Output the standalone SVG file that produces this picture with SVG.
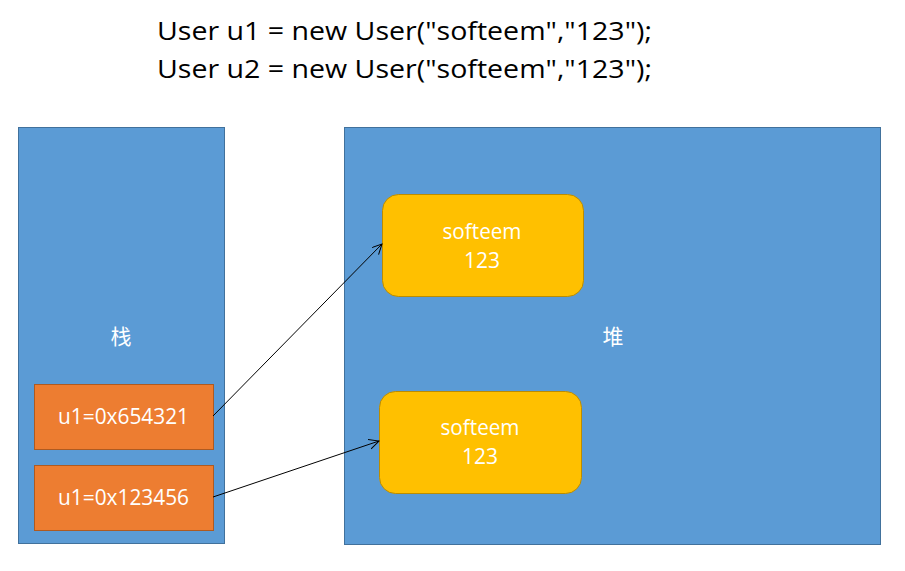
<svg xmlns="http://www.w3.org/2000/svg" width="905" height="571" viewBox="0 0 905 571">
<defs>
<style>
.area{fill:#5b9bd5;stroke:#41719c;stroke-width:1}
.ref{fill:#ed7d31;stroke:#ae5a21;stroke-width:1}
.obj{fill:#ffc000;stroke:#bc8c00;stroke-width:1}
.t{font-family:"Open Sans","Liberation Sans",sans-serif;fill:#fff;font-size:21px;text-anchor:middle}
.cjk{font-family:"Noto Sans CJK SC",sans-serif;fill:#fff;font-size:21px;text-anchor:middle}
.code{font-family:"Open Sans","Liberation Sans",sans-serif;fill:#000;font-size:26px}
.conn{stroke:#000;stroke-width:1;fill:none;marker-end:url(#arr)}
</style>
<marker id="arr" markerWidth="12" markerHeight="12" refX="10" refY="5" orient="auto" markerUnits="userSpaceOnUse">
<path d="M0,0 L10,5 L0,10" fill="none" stroke="#000" stroke-width="1"/>
</marker>
</defs>
<rect width="905" height="571" fill="#fff"/>
<g id="code">
<text class="code" x="157" y="40" textLength="495" lengthAdjust="spacingAndGlyphs">User u1 = new User("softeem","123");</text>
<text class="code" x="157" y="78" textLength="495" lengthAdjust="spacingAndGlyphs">User u2 = new User("softeem","123");</text>
</g>
<g id="stack">
<rect class="area" x="18.5" y="127.5" width="206" height="416"/>
<text class="cjk" x="121" y="344">栈</text>
</g>
<g id="heap">
<rect class="area" x="344.5" y="127.5" width="536" height="417"/>
<text class="cjk" x="613" y="344">堆</text>
</g>
<g id="u1">
<rect class="ref" x="34.5" y="384.5" width="179" height="65"/>
<text class="t" x="123.5" y="424" textLength="131" lengthAdjust="spacingAndGlyphs">u1=0x654321</text>
</g>
<g id="u2">
<rect class="ref" x="34.5" y="465.5" width="179" height="65"/>
<text class="t" x="123.5" y="505" textLength="131" lengthAdjust="spacingAndGlyphs">u1=0x123456</text>
</g>
<g id="obj1">
<rect class="obj" x="382.5" y="194.5" width="201" height="102" rx="16"/>
<text class="t" x="482" y="239" textLength="79" lengthAdjust="spacingAndGlyphs">softeem</text>
<text class="t" x="482" y="268">123</text>
</g>
<g id="obj2">
<rect class="obj" x="379.5" y="391.5" width="202" height="102" rx="16"/>
<text class="t" x="480" y="435" textLength="79" lengthAdjust="spacingAndGlyphs">softeem</text>
<text class="t" x="480" y="464">123</text>
</g>
<g id="connectors">
<line class="conn" x1="213" y1="416" x2="382" y2="244"/>
<line class="conn" x1="213" y1="497" x2="379" y2="441"/>
</g>
</svg>
